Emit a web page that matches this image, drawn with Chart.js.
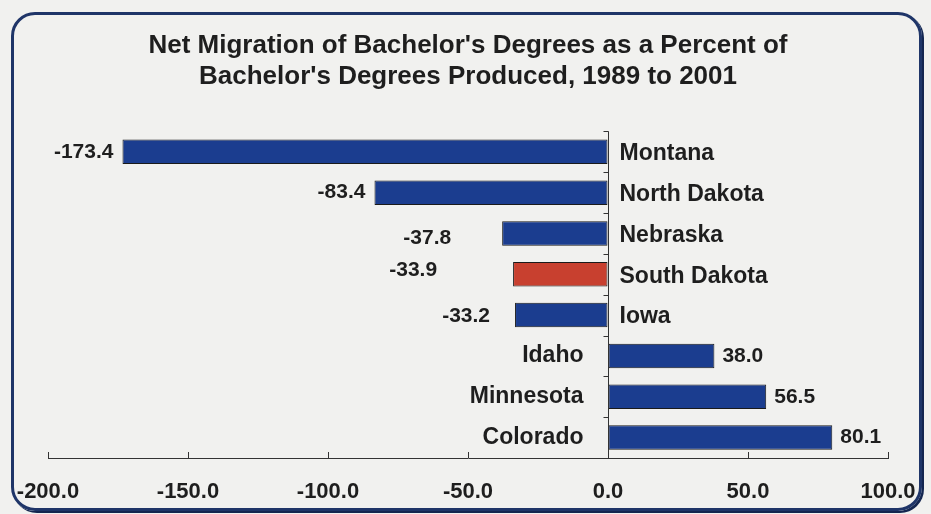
<!DOCTYPE html>
<html>
<head>
<meta charset="utf-8">
<script src="https://cdn.jsdelivr.net/npm/chart.js@4/dist/chart.umd.min.js"></script>
<style>
    html, body { margin: 0; padding: 0; background: #f1f1ef; }
    #frame {
        position: absolute; left: 11px; top: 12px; width: 905px; height: 493px;
        border: 3px solid #1f3568; border-radius: 24px; box-shadow: 2px 2px 0 #142650;
    }
    canvas { position: absolute; left: 0; top: 0; }
</style>
</head>
<body>
<div id="frame"></div>
<canvas id="migrationChart" width="931" height="514"></canvas>
<script>
// Data
const states = ["Montana", "North Dakota", "Nebraska", "South Dakota", "Iowa", "Idaho", "Minnesota", "Colorado"];
const netMigration = [-173.4, -83.4, -37.8, -33.9, -33.2, 38.0, 56.5, 80.1];
const xTicks = [-200, -150, -100, -50, 0, 50, 100];
const highlight = "South Dakota";

const fontFamily = "'Liberation Sans', Arial, sans-serif";

// axis marks, category names beside the zero line, values at the bar ends
const stateLabels = {
    id: "stateLabels",
    afterDatasetsDraw(chart, args, opts) {
        const { ctx, chartArea, scales: { x, y } } = chart;
        const zero = Math.round(x.getPixelForValue(0)) + 0.5;
        ctx.save();

        // zero line with ticks between categories, and x ticks pointing up
        ctx.strokeStyle = "#333";
        ctx.lineWidth = 1;
        ctx.beginPath();
        ctx.moveTo(zero, chartArea.top);
        ctx.lineTo(zero, chartArea.bottom);
        for (let i = 0; i <= states.length; i++) {
            const yy = Math.round(y.getPixelForValue(i - 0.5)) + 0.5;
            ctx.moveTo(zero - 5, yy);
            ctx.lineTo(zero, yy);
        }
        x.ticks.forEach(t => {
            const xx = Math.round(x.getPixelForValue(t.value)) + 0.5;
            ctx.moveTo(xx, chartArea.bottom);
            ctx.lineTo(xx, chartArea.bottom - 6);
        });
        ctx.stroke();

        ctx.fillStyle = "#1e1e1e";
        ctx.textBaseline = "middle";

        // x tick labels
        ctx.font = "bold 22px " + fontFamily;
        ctx.textAlign = "center";
        x.ticks.forEach(t => {
            ctx.fillText(t.value.toFixed(1), x.getPixelForValue(t.value), chartArea.bottom + 34);
        });

        netMigration.forEach((v, i) => {
            const yc = y.getPixelForValue(i);
            const end = x.getPixelForValue(v);

            ctx.font = "bold 23px " + fontFamily;
            if (v < 0) {
                ctx.textAlign = "left";
                ctx.fillText(states[i], zero + 11, yc + 2);
            } else {
                ctx.textAlign = "right";
                ctx.fillText(states[i], zero - 25, yc);
            }

            ctx.font = "bold 21px " + fontFamily;
            const dx = opts.shiftX[i] || 0;
            const dy = opts.shiftY[i] || 0;
            if (v < 0) {
                ctx.textAlign = "right";
                ctx.fillText(v.toFixed(1), end - 9 - dx, yc + dy);
            } else {
                ctx.textAlign = "left";
                ctx.fillText(v.toFixed(1), end + 8, yc + dy);
            }
        });
        ctx.restore();
    }
};

new Chart(document.getElementById("migrationChart"), {
    type: "bar",
    data: {
        labels: states,
        datasets: [{
            data: netMigration,
            backgroundColor: states.map(s => s === highlight ? "#c8402f" : "#1b3d8f"),
            borderColor: "#1a1a1a",
            borderWidth: 1,
            borderSkipped: false,
            barPercentage: 0.6,
            categoryPercentage: 1,
        }],
    },
    options: {
        indexAxis: "y",
        responsive: false,
        animation: false,
        devicePixelRatio: 1,
        layout: { padding: { left: 48, right: 43, top: 0, bottom: 56 } },
        scales: {
            x: {
                type: "linear",
                min: xTicks[0],
                max: xTicks[xTicks.length - 1],
                afterBuildTicks: axis => { axis.ticks = xTicks.map(v => ({ value: v })); },
                ticks: { display: false },
                grid: { display: true, drawOnChartArea: false, drawTicks: false },
                border: { display: true, color: "#333", width: 1 },
            },
            y: { display: false },
        },
        plugins: {
            legend: { display: false },
            tooltip: { enabled: false },
            title: {
                display: true,
                text: ["Net Migration of Bachelor's Degrees as a Percent of", "Bachelor's Degrees Produced, 1989 to 2001"],
                font: { family: fontFamily, size: 26, weight: "bold", lineHeight: 1.2 },
                color: "#1e1e1e",
                padding: { top: 30, bottom: 39 },
            },
            stateLabels: {
                shiftX: [0, 0, 42, 67, 16, 0, 0, 0],
                shiftY: [0, 0, 5, -4, 1, 0, 0, 0],
            },
        },
    },
    plugins: [stateLabels],
});
</script>
</body>
</html>
